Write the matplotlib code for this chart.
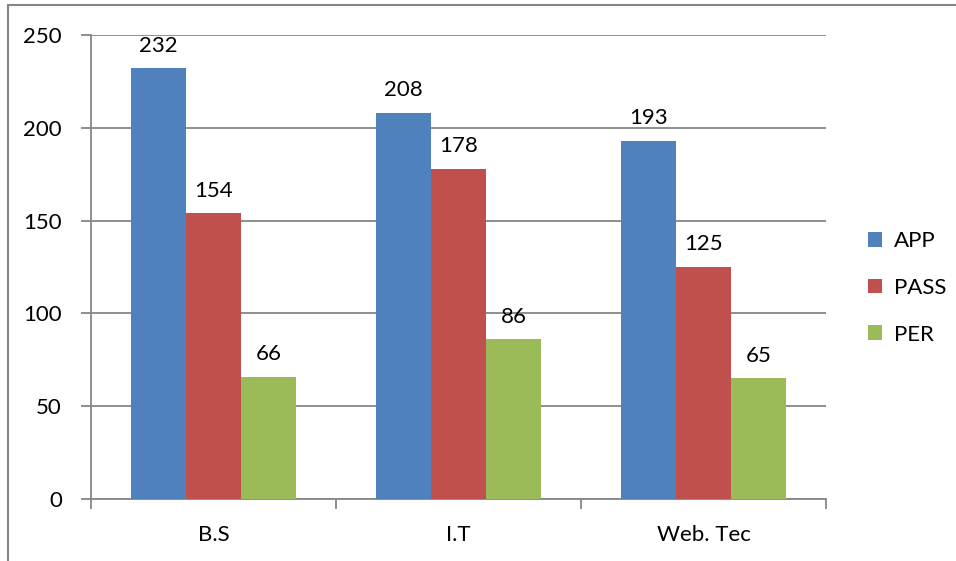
import numpy as np
import matplotlib.pyplot as plt
from matplotlib.patches import Rectangle

# -------- DATA --------
courses = ["B.S", "I.T", "Web. Tec"]
app = [232, 208, 193]
passed = [154, 178, 125]
per = [66, 86, 65]
series_names = ["APP", "PASS", "PER"]
colors = ["#4F81BD", "#C0504D", "#9BBB59"]

plt.rcParams['font.family'] = ['Lato', 'DejaVu Sans']
FS = 16

W, H = 956, 561
fig = plt.figure(figsize=(W / 100, H / 100), dpi=100)

# axes placed in pixel coords: left 91, right 826, top 35, bottom 499
ax = fig.add_axes([91 / W, 1 - 499 / H, (826 - 91) / W, (499 - 35) / H])

grid_c = "#868686"
x = np.arange(len(courses))
bw = 0.225
for i, (vals, name, c) in enumerate(zip([app, passed, per], series_names, colors)):
    pos = x + (i - 1) * bw
    ax.bar(pos, vals, width=bw, color=c, label=name, zorder=3)
    for p, v in zip(pos, vals):
        ax.annotate(str(v), (p, v), xytext=(0, 9), textcoords="offset points",
                    ha="center", va="bottom", fontsize=FS)

ax.set_xlim(-0.5, len(courses) - 0.5)
ax.set_ylim(0, 250)
ax.set_yticks(range(0, 251, 50))
ax.yaxis.grid(True, color=grid_c, linewidth=1.3, zorder=0)
ax.set_xticks(x)
ax.set_xticklabels(courses, fontsize=FS)
ax.set_xticks(np.arange(-0.5, len(courses), 1), minor=True)
ax.tick_params(axis="x", which="major", length=0, pad=19)
ax.tick_params(axis="x", which="minor", length=7, width=1.3, color=grid_c)
ax.tick_params(axis="y", length=7, width=1.3, color=grid_c, labelsize=FS, pad=14)

for s in ["top", "right"]:
    ax.spines[s].set_visible(False)
for s in ["left", "bottom"]:
    ax.spines[s].set_color(grid_c)
    ax.spines[s].set_linewidth(1.3)

ax.legend(loc="center left", bbox_to_anchor=(1.045, 0.455), frameon=False,
          fontsize=FS, handlelength=0.65, handleheight=0.65, labelspacing=1.2,
          handletextpad=0.5, borderaxespad=0)

# outer chart border (left/top visible, rest cut off)
fig.patches.append(Rectangle((8 / W, -0.1), 1.2, 1 - 5 / H + 0.1,
                             transform=fig.transFigure, fill=False,
                             edgecolor=grid_c, linewidth=1.5))

fig.savefig("out.png", dpi=100)
